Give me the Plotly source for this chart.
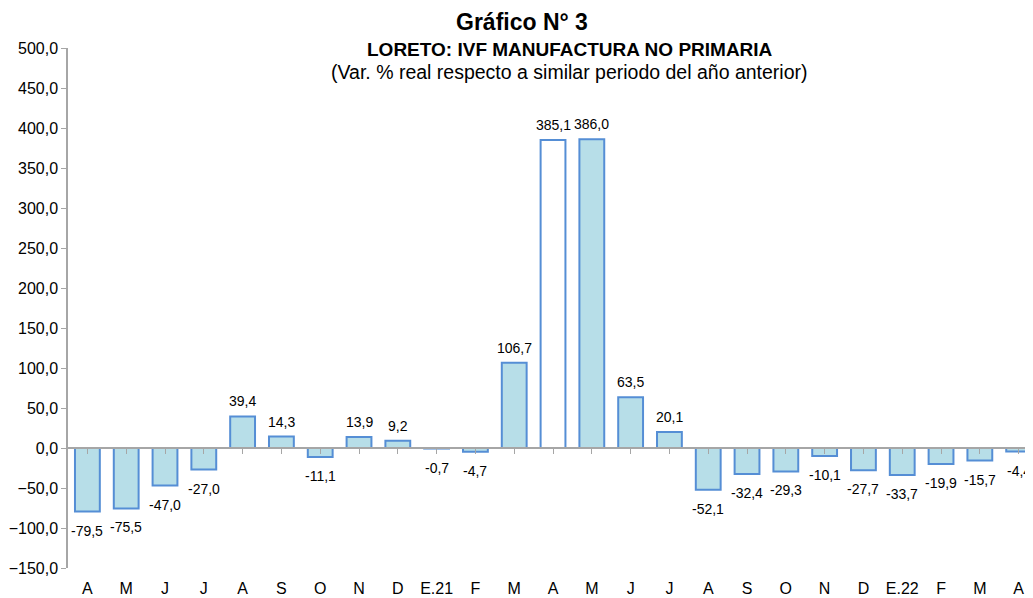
import plotly.graph_objects as go

categories = ["A", "M", "J", "J", "A", "S", "O", "N", "D", "E.21", "F", "M", "A",
              "M", "J", "J", "A", "S", "O", "N", "D", "E.22", "F", "M", "A"]
values = [-79.5, -75.5, -47.0, -27.0, 39.4, 14.3, -11.1, 13.9, 9.2, -0.7, -4.7, 106.7, 385.1,
          386.0, 63.5, 20.1, -52.1, -32.4, -29.3, -10.1, -27.7, -33.7, -19.9, -15.7, -4.4]
highlight_index = 12  # bar drawn with white fill

positions = list(range(len(categories)))
fills = ["#FFFFFF" if i == highlight_index else "#B7DEE8" for i in positions]

FONT = "Liberation Sans, Arial, sans-serif"

fig = go.Figure()
fig.add_trace(go.Bar(
    x=positions, y=values,
    marker=dict(color=fills, line=dict(color="#558ED5", width=2)),
    width=0.64,
    hoverinfo="x+y",
))
# invisible trace to host the axis line drawn at zero
fig.add_trace(go.Scatter(x=positions, y=[None] * len(positions), xaxis="x2",
                         mode="markers", showlegend=False, hoverinfo="skip"))

# data labels (placed above positive / below negative bars)
label_annotations = [
    dict(x=p, y=v, xref="x", yref="y", text=f"{v:.1f}".replace(".", ","),
         showarrow=False, yanchor="middle", xanchor="center",
         yshift=15 if v >= 0 else -19,
         font=dict(family=FONT, size=14, color="#000000"))
    for p, v in zip(positions, values)
]

title_annotations = [
    dict(text="<b>Gráfico N° 3</b>", x=0.470, y=1.05, xanchor="center", yanchor="middle",
         xref="paper", yref="paper", showarrow=False, font=dict(size=23)),
    dict(text="<b>LORETO: IVF MANUFACTURA NO PRIMARIA</b>", x=0.520, y=0.998,
         xanchor="center", yanchor="middle",
         xref="paper", yref="paper", showarrow=False, font=dict(size=19)),
    dict(text="(Var. % real respecto a similar periodo del año anterior)", x=0.520, y=0.954,
         xanchor="center", yanchor="middle",
         xref="paper", yref="paper", showarrow=False, font=dict(size=19.5)),
]

fig.update_layout(
    width=1025, height=590,
    margin=dict(l=60, r=0, t=40, b=30),
    paper_bgcolor="white", plot_bgcolor="white",
    separators=",.",
    showlegend=False,
    font=dict(family=FONT, size=14, color="#000000"),
    xaxis=dict(
        range=[-0.5, 24.37], tickvals=positions, ticktext=categories,
        showline=False, showgrid=False, zeroline=False, ticks="",
        tickfont=dict(size=16), ticklabelstandoff=9,
    ),
    xaxis2=dict(
        overlaying="x", matches="x", anchor="free", position=150 / 650,
        showline=True, linecolor="#A6A6A6", linewidth=1.5,
        ticks="outside", tickson="boundaries", ticklen=5, tickcolor="#A6A6A6",
        tickvals=positions, showticklabels=False, showgrid=False, zeroline=False,
    ),
    yaxis=dict(
        range=[-150, 500], dtick=50, tick0=0, tickformat=".1f",
        showline=True, linecolor="#A6A6A6", linewidth=1.5,
        ticks="outside", ticklen=5, tickcolor="#A6A6A6",
        showgrid=False, zeroline=False, tickfont=dict(size=16),
    ),
    annotations=label_annotations + title_annotations,
)

fig.write_html("out.html")
